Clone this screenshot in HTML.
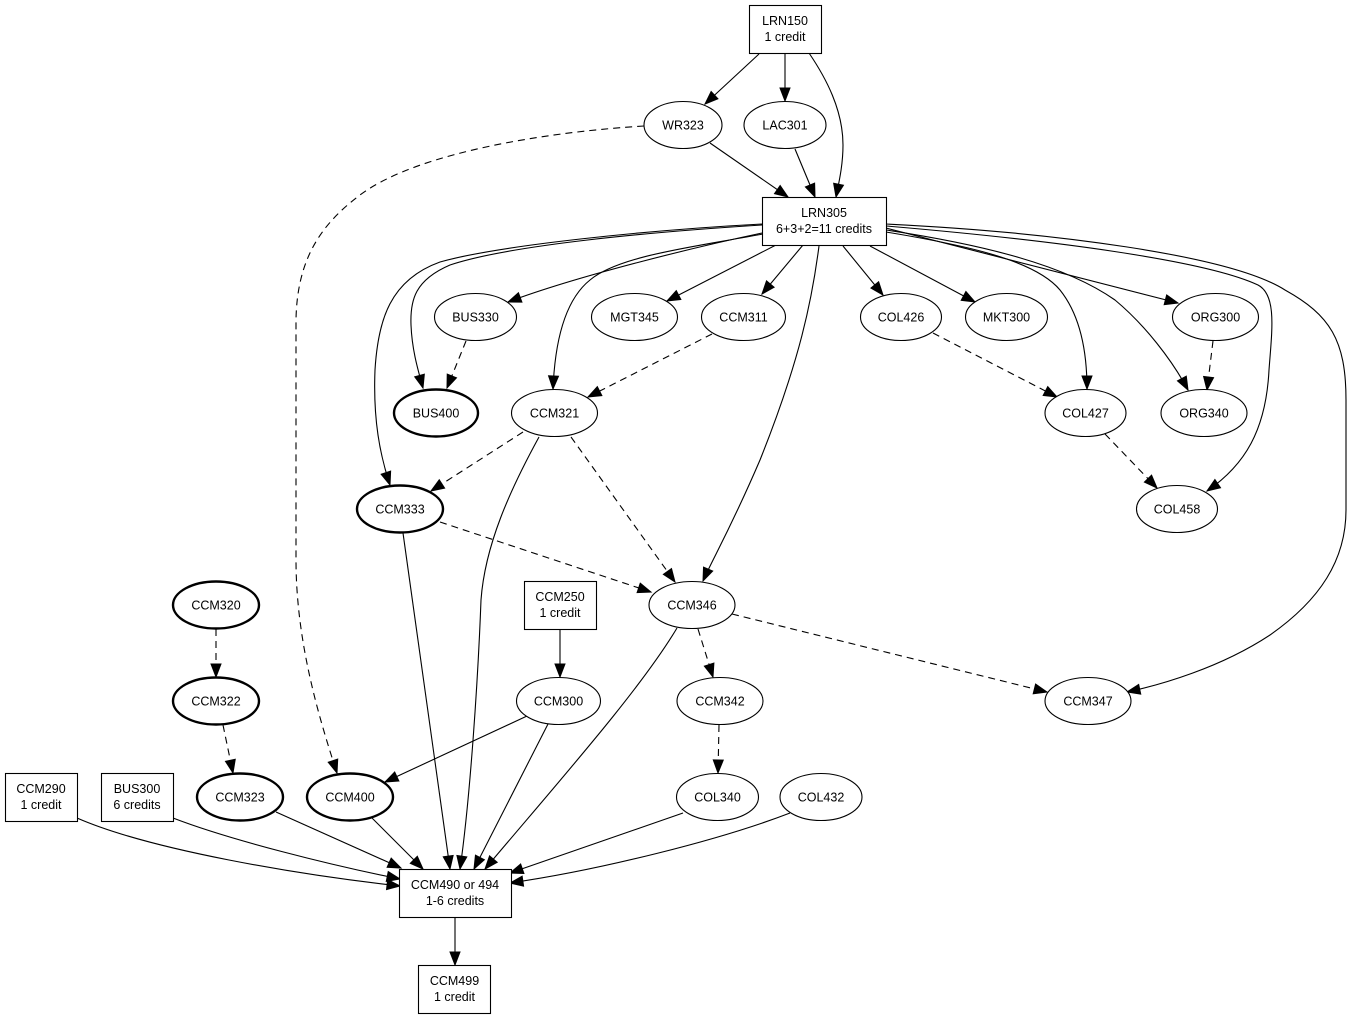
<!DOCTYPE html>
<html><head><meta charset="utf-8"><style>
html,body{margin:0;padding:0;background:#fff;}
svg{display:block;}
text{font-family:"Liberation Sans",Arial,sans-serif;font-size:12.5px;fill:#000;text-anchor:middle;}
.n{fill:#fff;stroke:#000;stroke-width:1.1;}
.b{fill:#fff;stroke:#000;stroke-width:2.4;}
.e{fill:none;stroke:#000;stroke-width:1.1;marker-end:url(#ah);}
.d{fill:none;stroke:#000;stroke-width:1.1;stroke-dasharray:7,5;marker-end:url(#ah);}
</style></head><body>
<svg width="1352" height="1019" viewBox="0 0 1352 1019" xmlns="http://www.w3.org/2000/svg">
<defs>
<marker id="ah" markerUnits="userSpaceOnUse" markerWidth="14" markerHeight="11" refX="13" refY="5" orient="auto" overflow="visible">
<path d="M0,0 L13,5 L0,10 z" fill="#000" stroke="#000" stroke-width="1" stroke-dasharray="none"/>
</marker>
</defs>
<rect width="1352" height="1019" fill="#fff"/>

<!-- edges -->
<path class="e" d="M759,54 L705,104"/>
<path class="e" d="M785,53 L785,101"/>
<path class="e" d="M809,53 C826,78 843,110 843,145 C843,165 839,182 836,197"/>
<path class="e" d="M710,143 L788,197"/>
<path class="e" d="M795,149 L815,197"/>
<path class="d" d="M644,126 C560,131 420,150 360,195 C320,225 297,260 296,320 L296,560 C296,640 318,715 337,773"/>

<path class="e" d="M762,233 C700,246 580,275 508,302"/>
<path class="e" d="M776,245 L667,301"/>
<path class="e" d="M803,245 L762,294"/>
<path class="e" d="M762,225 C650,232 510,245 450,265 C415,280 410,300 411,325 C412,350 418,370 423,388"/>
<path class="e" d="M762,224 C650,230 500,245 440,262 C390,280 378,320 375,370 C373,420 380,455 390,485"/>
<path class="e" d="M763,234 C700,246 620,255 590,280 C565,300 555,340 553,389"/>
<path class="e" d="M819,246 C812,300 800,360 760,460 C730,530 712,560 703,581"/>
<path class="e" d="M843,246 L883,295"/>
<path class="e" d="M870,246 L975,302"/>
<path class="e" d="M886,232 C965,245 1035,260 1060,290 C1080,315 1087,350 1087,389"/>
<path class="e" d="M886,230 C985,245 1065,265 1115,300 C1145,325 1172,360 1188,390"/>
<path class="e" d="M886,228 L1178,303"/>
<path class="e" d="M886,226 C1050,240 1205,260 1258,285 C1277,295 1272,330 1269,370 C1266,430 1245,465 1207,491"/>
<path class="e" d="M886,224 C1050,232 1230,255 1285,290 C1330,315 1346,340 1346,400 L1346,510 C1346,560 1320,600 1270,635 C1220,668 1160,685 1127,692"/>

<path class="d" d="M466,341 L447,388"/>
<path class="d" d="M712,334 L588,397"/>
<path class="d" d="M933,333 L1057,397"/>
<path class="d" d="M1213,341 L1207,390"/>
<path class="d" d="M1105,434 L1157,488"/>
<path class="d" d="M523,432 L431,491"/>
<path class="d" d="M571,437 L675,582"/>
<path class="d" d="M440,522 L651,592"/>
<path class="d" d="M698,629 L713,677"/>
<path class="d" d="M732,614 L1047,692"/>
<path class="d" d="M719,725 L718,773"/>
<path class="d" d="M216,629 L216,677"/>
<path class="d" d="M223,725 L233,773"/>

<path class="e" d="M403,533 L450,869"/>
<path class="e" d="M539,437 C510,490 485,545 481,600 C478,680 470,800 460,869"/>
<path class="e" d="M548,724 L474,869"/>
<path class="e" d="M677,628 C640,690 560,780 485,869"/>
<path class="e" d="M372,818 L423,869"/>
<path class="e" d="M276,812 L401,868"/>
<path class="e" d="M173,818 C230,840 330,865 400,879"/>
<path class="e" d="M77,818 C150,850 300,875 400,886"/>
<path class="e" d="M683,813 L510,873"/>
<path class="e" d="M790,813 C720,840 600,870 510,883"/>
<path class="e" d="M527,716 L385,782"/>
<path class="e" d="M560,629 L560,677"/>
<path class="e" d="M455,917 L455,965"/>

<!-- box nodes -->
<rect class="n" x="749.5" y="5.5" width="72" height="48"/>
<text x="785" y="25">LRN150</text><text x="785" y="41">1 credit</text>
<rect class="n" x="762.5" y="197.5" width="124" height="48"/>
<text x="824" y="217">LRN305</text><text x="824" y="233">6+3+2=11 credits</text>
<rect class="n" x="524.5" y="581.5" width="72" height="48"/>
<text x="560" y="601">CCM250</text><text x="560" y="617">1 credit</text>
<rect class="n" x="5.5" y="773.5" width="72" height="48"/>
<text x="41" y="793">CCM290</text><text x="41" y="809">1 credit</text>
<rect class="n" x="101.5" y="773.5" width="72" height="48"/>
<text x="137" y="793">BUS300</text><text x="137" y="809">6 credits</text>
<rect class="n" x="399.5" y="869.5" width="112" height="48"/>
<text x="455" y="889">CCM490 or 494</text><text x="455" y="905">1-6 credits</text>
<rect class="n" x="418.5" y="965.5" width="72" height="48"/>
<text x="454.5" y="985">CCM499</text><text x="454.5" y="1001">1 credit</text>

<!-- ellipse nodes -->
<ellipse class="n" cx="683" cy="125" rx="39" ry="23.5"/><text x="683" y="129.5">WR323</text>
<ellipse class="n" cx="785" cy="125" rx="41" ry="23.5"/><text x="785" y="129.5">LAC301</text>
<ellipse class="n" cx="475.5" cy="317" rx="41" ry="23.5"/><text x="475.5" y="321.5">BUS330</text>
<ellipse class="n" cx="634.5" cy="317" rx="43" ry="23.5"/><text x="634.5" y="321.5">MGT345</text>
<ellipse class="n" cx="743.5" cy="317" rx="42" ry="23.5"/><text x="743.5" y="321.5">CCM311</text>
<ellipse class="n" cx="901" cy="317" rx="40.5" ry="23.5"/><text x="901" y="321.5">COL426</text>
<ellipse class="n" cx="1006.5" cy="317" rx="41" ry="23.5"/><text x="1006.5" y="321.5">MKT300</text>
<ellipse class="n" cx="1215.5" cy="317" rx="43" ry="23.5"/><text x="1215.5" y="321.5">ORG300</text>
<ellipse class="b" cx="436" cy="413" rx="42" ry="23.5"/><text x="436" y="417.5">BUS400</text>
<ellipse class="n" cx="554.5" cy="413" rx="43" ry="23.5"/><text x="554.5" y="417.5">CCM321</text>
<ellipse class="n" cx="1085.5" cy="413" rx="40.5" ry="23.5"/><text x="1085.5" y="417.5">COL427</text>
<ellipse class="n" cx="1204" cy="413" rx="43" ry="23.5"/><text x="1204" y="417.5">ORG340</text>
<ellipse class="b" cx="400" cy="509" rx="43" ry="23.5"/><text x="400" y="513.5">CCM333</text>
<ellipse class="n" cx="1177" cy="509" rx="40.5" ry="23.5"/><text x="1177" y="513.5">COL458</text>
<ellipse class="b" cx="216" cy="605" rx="43" ry="23.5"/><text x="216" y="609.5">CCM320</text>
<ellipse class="n" cx="692" cy="605" rx="43" ry="23.5"/><text x="692" y="609.5">CCM346</text>
<ellipse class="b" cx="216" cy="701" rx="43" ry="23.5"/><text x="216" y="705.5">CCM322</text>
<ellipse class="n" cx="558.5" cy="701" rx="42" ry="23.5"/><text x="558.5" y="705.5">CCM300</text>
<ellipse class="n" cx="720" cy="701" rx="43" ry="23.5"/><text x="720" y="705.5">CCM342</text>
<ellipse class="n" cx="1088" cy="701" rx="43" ry="23.5"/><text x="1088" y="705.5">CCM347</text>
<ellipse class="b" cx="240" cy="797" rx="43" ry="23.5"/><text x="240" y="801.5">CCM323</text>
<ellipse class="b" cx="350" cy="797" rx="43" ry="23.5"/><text x="350" y="801.5">CCM400</text>
<ellipse class="n" cx="717.5" cy="797" rx="41" ry="23.5"/><text x="717.5" y="801.5">COL340</text>
<ellipse class="n" cx="821" cy="797" rx="41" ry="23.5"/><text x="821" y="801.5">COL432</text>
</svg>
</body></html>
